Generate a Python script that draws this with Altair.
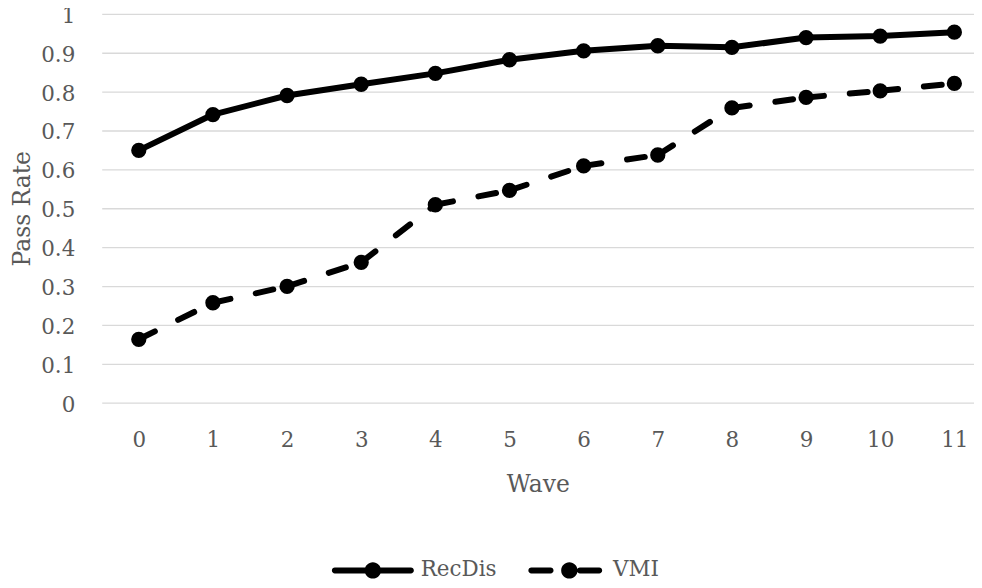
import altair as alt
import pandas as pd

waves = list(range(12))
recdis = [0.649, 0.741, 0.790, 0.819, 0.847, 0.882, 0.905, 0.918, 0.914, 0.939, 0.943, 0.953]
vmi = [0.163, 0.257, 0.299, 0.361, 0.509, 0.546, 0.609, 0.637, 0.758, 0.785, 0.802, 0.821]
series_names = ["RecDis", "VMI"]
y_ticks = [0, 0.1, 0.2, 0.3, 0.4, 0.5, 0.6, 0.7, 0.8, 0.9, 1]

long = pd.DataFrame({
    "wave": waves * 2,
    "value": recdis + vmi,
    "series": ["RecDis"] * 12 + ["VMI"] * 12,
})
seg = pd.DataFrame({
    "wave": waves[:-1], "value": vmi[:-1],
    "wave2": waves[1:], "value2": vmi[1:],
})

FONT = "DejaVu Serif"
TXT = "#595959"

h = 0.073
path_rec = (f"M-0.93,-{h}L0.93,-{h}A{h},{h},0,0,1,0.93,{h}L-0.93,{h}A{h},{h},0,0,1,-0.93,-{h}Z"
            "M0.2,0A0.2,0.2,0,1,1,-0.2,0A0.2,0.2,0,1,1,0.2,0Z")
path_vmi = (f"M-0.83,-{h}L-0.36,-{h}A{h},{h},0,0,1,-0.36,{h}L-0.83,{h}A{h},{h},0,0,1,-0.83,-{h}Z"
            f"M0.36,-{h}L0.83,-{h}A{h},{h},0,0,1,0.83,{h}L0.36,{h}A{h},{h},0,0,1,0.36,-{h}Z"
            "M0.3,0A0.2,0.2,0,1,1,-0.1,0A0.2,0.2,0,1,1,0.3,0Z")

xscale = alt.Scale(domain=[-0.5, 11.265], nice=False, zero=False)
yscale = alt.Scale(domain=[0, 1], nice=False, zero=True)

x_axis = alt.Axis(values=waves, format="d", grid=False, title="Wave",
                  labelPadding=27, titlePadding=22, labelOverlap=False)
y_axis = alt.Axis(values=y_ticks, tickCount=11, format=".1~f", grid=True, title="Pass Rate",
                  labelPadding=27, titlePadding=6, labelOverlap=False, labelOffset=2.5)


def xe(f="wave"):
    return alt.X(f"{f}:Q", scale=xscale, axis=x_axis)


def ye(f="value"):
    return alt.Y(f"{f}:Q", scale=yscale, axis=y_axis)


base = alt.Chart(long)

rec_line = base.mark_line(color="black", strokeWidth=6, strokeJoin="round", strokeCap="round").encode(
    x=xe(), y=ye()
).transform_filter("datum.series == 'RecDis'")

vmi_rules = alt.Chart(seg).mark_rule(color="black", strokeWidth=6, strokeDash=[18, 26], strokeCap="round").encode(
    x=xe(), y=ye(), x2="wave2:Q", y2="value2:Q"
)

points = base.mark_circle(color="black", size=235, opacity=1).encode(x=xe(), y=ye())

legend_layer = base.mark_point(filled=True, color="black", size=6724, opacity=1, strokeWidth=0).encode(
    x=xe(), y=ye(),
    shape=alt.Shape("series:N",
                    scale=alt.Scale(domain=series_names, range=[path_rec, path_vmi]),
                    legend=alt.Legend(title=None, orient="none", direction="horizontal",
                                      legendX=231, legendY=517, columnPadding=27,
                                      labelOffset=7, symbolSize=6724,
                                      labelFont=FONT, labelFontSize=21.5, labelColor=TXT,
                                      symbolStrokeWidth=0, symbolFillColor="black")),
).transform_filter("datum.value < 0")

chart = alt.layer(rec_line, vmi_rules, points, legend_layer).properties(
    width=875, height=390,
    autosize=alt.AutoSizeParams(type="none"),
    padding={"left": 94, "top": 5, "right": 0, "bottom": 177},
).configure_view(stroke=None).configure_axis(
    domain=False, ticks=False,
    gridColor="#d9d9d9", gridWidth=1.3,
    labelFont=FONT, labelFontSize=21.5, labelColor=TXT,
    titleFont=FONT, titleFontSize=23.5, titleColor=TXT, titleFontWeight="normal",
)

chart.save("out.html", embed_options={"renderer": "svg", "actions": False})
